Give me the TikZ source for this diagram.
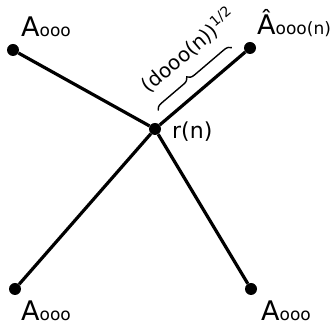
\documentclass[tikz,border=0pt]{standalone}
\usepackage{fontspec}
\setmainfont{DejaVu Sans}
\usetikzlibrary{decorations.pathreplacing}
\begin{document}
\begin{tikzpicture}[x=1pt,y=1pt,
  dot/.style={circle,fill=black,inner sep=0pt,minimum size=12pt},
  arm/.style={line width=3.2pt},
  lbl/.style={inner sep=0pt,anchor=base west}]
\useasboundingbox (0,0) rectangle (335,328);
\node[dot] (c) at (155,199) {};
\node[dot] (tl) at (13,278) {};
\node[dot] (tr) at (250,280) {};
\node[dot] (bl) at (15,39) {};
\node[dot] (br) at (251,39) {};
\draw[arm] (tl) -- (c);
\draw[arm] (tr) -- (c);
\draw[arm] (bl) -- (c);
\draw[arm] (br) -- (c);
\node[lbl] (ltl) at (21,291) {\fontsize{27}{30}\selectfont A\fontsize{17}{20}\selectfont ooo};
\node[lbl] (ltr) at (257,293) {\fontsize{27}{30}\selectfont Â\fontsize{17}{20}\selectfont ooo(n)};
\node[lbl] (lbl1) at (21,7) {\fontsize{27}{30}\selectfont A\fontsize{17}{20}\selectfont ooo};
\node[lbl] (lbr) at (261,7) {\fontsize{27}{30}\selectfont A\fontsize{17}{20}\selectfont ooo};
\node[lbl] (rn) at (172,189) {\fontsize{22}{26}\selectfont r(n)};
\begin{scope}[shift={(202.5,239.5)},rotate=40.45]
  \coordinate (b1) at (-48,12);
  \coordinate (b2) at (49,12);
  \draw[line width=1.4pt,decorate,decoration={brace,amplitude=7pt,aspect=0.45}] (b1) -- (b2);
  \node[inner sep=0pt,anchor=base,rotate=40.45] (len) at (14,31) {\fontsize{20}{22}\selectfont (dooo(n))$^{\hbox{\fontsize{14}{16}\selectfont 1/2}}$};
\end{scope}
\end{tikzpicture}
\end{document}
